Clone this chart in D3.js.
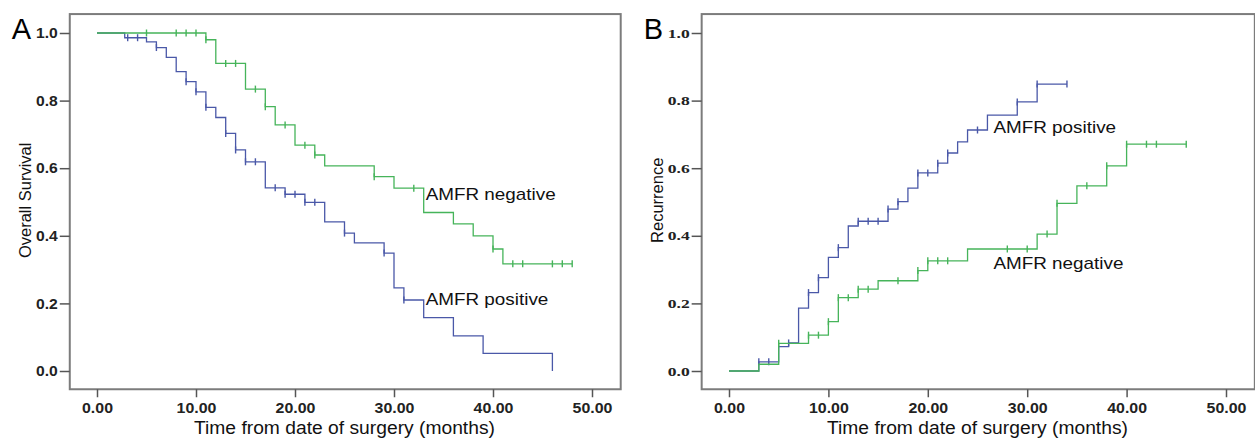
<!DOCTYPE html>
<html>
<head>
<meta charset="utf-8">
<script src="https://cdnjs.cloudflare.com/ajax/libs/d3/7.8.5/d3.min.js"></script>
<style>
  body { margin: 0; background: #fff; }
  svg { display: block; font-family: "Liberation Sans", Arial, sans-serif; }
</style>
</head>
<body>
<svg id="chart" width="1255" height="439"></svg>
<script>
// Panel A: overall survival (Kaplan-Meier)
var aNegTime = [11, 12, 15, 17, 18, 20, 22, 23, 28, 30, 33, 36, 38, 40, 41];
var aNegSurv = [0.98, 0.91, 0.834, 0.782, 0.728, 0.668, 0.639, 0.607, 0.575, 0.541, 0.469, 0.435, 0.40, 0.361, 0.317];
var aNegCens = [5, 8, 9, 10, 11, 13, 14, 16, 17, 19, 21, 22, 28, 32, 40, 42, 43, 46, 47, 48];
var aNegEnd = 48;

var aPosTime = [2.8, 5, 6, 7, 8, 9, 10, 11, 12, 13, 14, 15, 17, 19, 21, 23, 25, 26, 29, 30, 31, 33, 36, 39, 46];
var aPosSurv = [0.986, 0.974, 0.957, 0.928, 0.886, 0.856, 0.826, 0.78, 0.75, 0.703, 0.654, 0.619, 0.542, 0.523, 0.499, 0.441, 0.408, 0.379, 0.349, 0.246, 0.21, 0.158, 0.104, 0.052, 0.0];
var aPosCens = [3.1, 4.1, 6, 9, 10, 11, 13, 14, 15, 16, 18, 19, 20, 21, 22, 25, 29, 31];
var aPosEnd = 46;

// Panel B: recurrence (cumulative)
var bPosTime = [3, 5, 6, 7, 8, 9, 10, 11, 12, 13, 16, 17, 18, 19, 21, 22, 23, 24, 26, 29, 31];
var bPosRec = [0.027, 0.072, 0.083, 0.186, 0.232, 0.276, 0.336, 0.365, 0.429, 0.443, 0.479, 0.501, 0.541, 0.586, 0.615, 0.645, 0.678, 0.713, 0.757, 0.796, 0.849];
var bPosCens = [3, 4, 6, 8, 9, 11, 13, 14, 15, 16, 17, 19, 20, 21, 22, 25, 29, 31, 34];
var bPosEnd = 34;

var bNegTime = [3, 5, 8, 10, 11, 13, 15, 19, 20, 24, 31, 33, 35, 38, 40];
var bNegRec = [0.02, 0.082, 0.106, 0.146, 0.217, 0.242, 0.267, 0.297, 0.326, 0.361, 0.405, 0.496, 0.548, 0.607, 0.671];
var bNegCens = [5, 8, 9, 10, 11, 12, 13, 14, 17, 19, 20, 21, 22, 28, 30, 32, 33, 36, 38, 40, 42, 43, 46];
var bNegEnd = 46;

var xTicks = [0, 10, 20, 30, 40, 50];
var yTicks = [0, 0.2, 0.4, 0.6, 0.8, 1.0];

var blue = "#4a58a8", green = "#46b45a";

var svg = d3.select("#chart");

// stretch text horizontally (the source picture is a bit wider than tall)
function widen(sel, k) {
  sel.each(function () {
    var w = this.getComputedTextLength();
    d3.select(this).attr("textLength", w * k).attr("lengthAdjust", "spacingAndGlyphs");
  });
}

function stepPoints(times, vals, start, end) {
  var pts = [[0, start]];
  times.forEach(function (t, i) { pts.push([t, vals[i]]); });
  if (end > times[times.length - 1]) pts.push([end, vals[vals.length - 1]]);
  return pts;
}

function valueAt(times, vals, start, t) {
  var v = start;
  times.forEach(function (tt, i) { if (tt <= t) v = vals[i]; });
  return v;
}

function drawPanel(opt) {
  var x = d3.scaleLinear().domain([0, 50]).range(opt.xRange);
  var y = d3.scaleLinear().domain([0, 1]).range([371, 33]);
  var left = x(-2.75), right = x(52.9), top = y(1.056), bottom = y(-0.054);

  var g = svg.append("g");

  // curves
  opt.series.forEach(function (s) {
    var pts = stepPoints(s.time, s.vals, opt.start, s.end);
    g.append("path")
      .datum(pts)
      .attr("fill", "none")
      .attr("stroke", s.color)
      .attr("stroke-width", 1.3)
      .attr("d", d3.line()
        .curve(d3.curveStepAfter)
        .x(function (d) { return x(d[0]); })
        .y(function (d) { return y(d[1]); }));

    g.selectAll(null)
      .data(s.cens)
      .enter().append("line")
      .attr("stroke", s.color)
      .attr("stroke-width", 1.4)
      .attr("x1", function (d) { return x(d); })
      .attr("x2", function (d) { return x(d); })
      .attr("y1", function (d) { return y(valueAt(s.time, s.vals, opt.start, d)) - 3.5; })
      .attr("y2", function (d) { return y(valueAt(s.time, s.vals, opt.start, d)) + 3.5; });

    g.append("text")
      .attr("x", x(s.labelAt[0]))
      .attr("y", y(s.labelAt[1]))
      .attr("font-size", 17)
      .attr("fill", "#111")
      .text(s.label)
      .call(widen, 1.11);
  });

  // frame
  g.append("rect")
    .attr("x", left).attr("y", top)
    .attr("width", right - left).attr("height", bottom - top)
    .attr("fill", "none")
    .attr("stroke", "#7c7c7c")
    .attr("stroke-width", 2);

  // y axis
  var ya = g.append("g")
    .attr("transform", "translate(" + left + ",0)")
    .call(d3.axisLeft(y).tickValues(yTicks).tickFormat(d3.format(".1f")).tickSize(10).tickPadding(2));
  ya.select(".domain").remove();
  ya.selectAll(".tick line").attr("stroke", "#555").attr("stroke-width", 1.5);
  ya.selectAll(".tick text")
    .attr("fill", "#222")
    .attr("font-weight", "bold")
    .attr("font-family", opt.yFont)
    .attr("font-size", opt.yFontSize)
    .call(widen, opt.yWiden);

  // x axis
  var xa = g.append("g")
    .attr("transform", "translate(0," + bottom + ")")
    .call(d3.axisBottom(x).tickValues(xTicks).tickFormat(d3.format(".2f")).tickSize(8).tickPadding(5));
  xa.select(".domain").remove();
  xa.selectAll(".tick line").attr("stroke", "#555").attr("stroke-width", 1.5);
  xa.selectAll(".tick text")
    .attr("fill", "#222")
    .attr("font-weight", "bold")
    .attr("font-family", "Liberation Sans, Arial, sans-serif")
    .attr("font-size", 15)
    .call(widen, 1.06);

  // axis titles
  g.append("text")
    .attr("x", x(25)).attr("y", 434)
    .attr("text-anchor", "middle")
    .attr("font-size", 17.5)
    .attr("fill", "#111")
    .text("Time from date of surgery (months)")
    .call(widen, 1.1);

  g.append("text")
    .attr("transform", "translate(" + (left - 39) + "," + y(0.505) + ") rotate(-90)")
    .attr("text-anchor", "middle")
    .attr("font-size", opt.yTitleSize)
    .attr("fill", "#111")
    .text(opt.yTitle);

  // panel letter
  g.append("text")
    .attr("x", left - 58).attr("y", 39)
    .attr("font-size", 29)
    .attr("fill", "#000")
    .text(opt.letter);
}

drawPanel({
  letter: "A",
  xRange: [97, 592],
  start: 1,
  yTitle: "Overall Survival",
  yTitleSize: 16.5,
  yFont: "Liberation Sans, Arial, sans-serif",
  yFontSize: 14.5,
  yWiden: 1.08,
  series: [
    { time: aPosTime, vals: aPosSurv, cens: aPosCens, end: aPosEnd, color: blue, label: "AMFR positive", labelAt: [33.2, 0.195] },
    { time: aNegTime, vals: aNegSurv, cens: aNegCens, end: aNegEnd, color: green, label: "AMFR negative", labelAt: [33.2, 0.507] }
  ]
});

drawPanel({
  letter: "B",
  xRange: [729, 1226],
  start: 0,
  yTitle: "Recurrence",
  yTitleSize: 16.5,
  yFont: "Liberation Serif, Times New Roman, serif",
  yFontSize: 12.5,
  yWiden: 1.4,
  series: [
    { time: bPosTime, vals: bPosRec, cens: bPosCens, end: bPosEnd, color: blue, label: "AMFR positive", labelAt: [26.6, 0.704] },
    { time: bNegTime, vals: bNegRec, cens: bNegCens, end: bNegEnd, color: green, label: "AMFR negative", labelAt: [26.6, 0.301] }
  ]
});
</script>
</body>
</html>
